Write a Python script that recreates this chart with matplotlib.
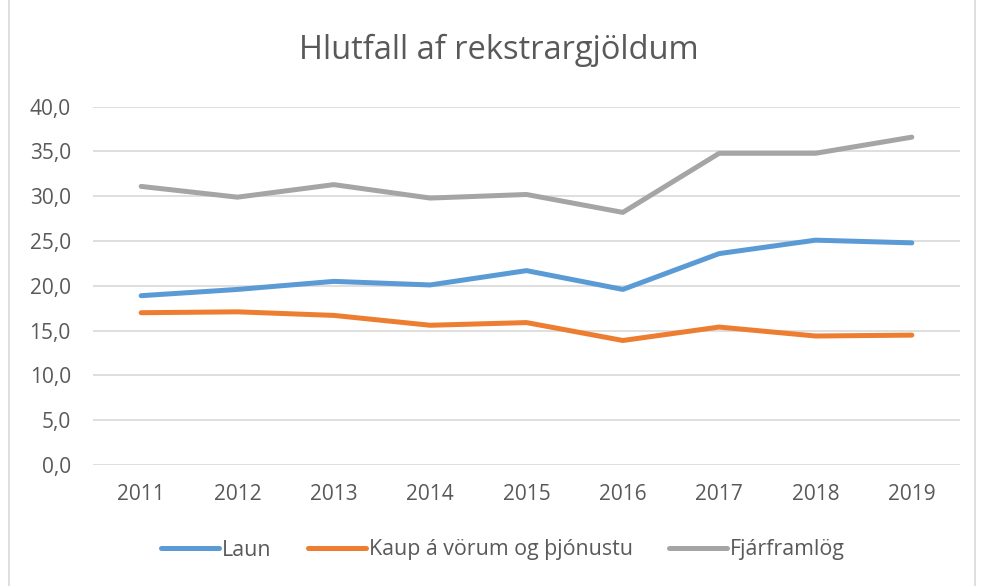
import matplotlib.pyplot as plt
from matplotlib.ticker import FuncFormatter, MultipleLocator
from matplotlib.lines import Line2D

years = ['2011', '2012', '2013', '2014', '2015', '2016', '2017', '2018', '2019']
laun = [18.9, 19.6, 20.5, 20.1, 21.7, 19.6, 23.6, 25.1, 24.8]
kaup = [17.0, 17.1, 16.7, 15.6, 15.9, 13.9, 15.4, 14.4, 14.5]
fjarframlog = [31.1, 29.9, 31.3, 29.8, 30.2, 28.2, 34.8, 34.8, 36.6]

series = [
    ('Laun', laun, '#5B9BD5'),
    ('Kaup á vörum og þjónustu', kaup, '#ED7D31'),
    ('Fjárframlög', fjarframlog, '#A5A5A5'),
]

plt.rcParams['font.family'] = ['Open Sans', 'DejaVu Sans']
text_col = '#595959'

fig = plt.figure(figsize=(9.81, 5.86), dpi=100)
ax = fig.add_axes([93 / 981, 121 / 586, 867 / 981, 358.3 / 586])

x = list(range(len(years)))
for name, vals, col in series:
    ax.plot(x, vals, color=col, linewidth=3.6, solid_capstyle='round',
            solid_joinstyle='round', label=name)

ax.set_xlim(-0.5, len(years) - 0.5)
ax.set_ylim(0, 40)
ax.yaxis.set_major_locator(MultipleLocator(5))
ax.yaxis.set_major_formatter(FuncFormatter(lambda v, p: f'{v:.1f}'.replace('.', ',')))
ax.set_xticks(x)
ax.set_xticklabels(years)
ax.grid(axis='y', color='#D9D9D9', linewidth=1.2)
ax.set_axisbelow(True)
for s in ax.spines.values():
    s.set_visible(False)
ax.tick_params(length=0, labelsize=15, colors=text_col)
ax.tick_params(axis='x', pad=14)
ax.tick_params(axis='y', pad=16)

fig.text(499 / 981, 1 - 50 / 586, 'Hlutfall af rekstrargjöldum', ha='center', va='center',
         fontsize=23.5, color=text_col)

handles = [Line2D([0], [0], color=c, linewidth=3.6, solid_capstyle='round') for _, _, c in series]
fig.legend(handles, [n for n, _, _ in series], loc='center', bbox_to_anchor=(0.513, 1 - 550 / 586),
           ncol=3, frameon=False, fontsize=15.4, labelcolor=text_col, handlelength=2.7,
           handletextpad=0.15, columnspacing=1.7)

# chart frame
fig.add_artist(Line2D([9 / 981, 9 / 981], [0, 1], color='#D9D9D9', linewidth=1.2))
fig.add_artist(Line2D([975 / 981, 975 / 981], [0, 1], color='#D9D9D9', linewidth=1.2))

fig.savefig('out.png', dpi=100)
